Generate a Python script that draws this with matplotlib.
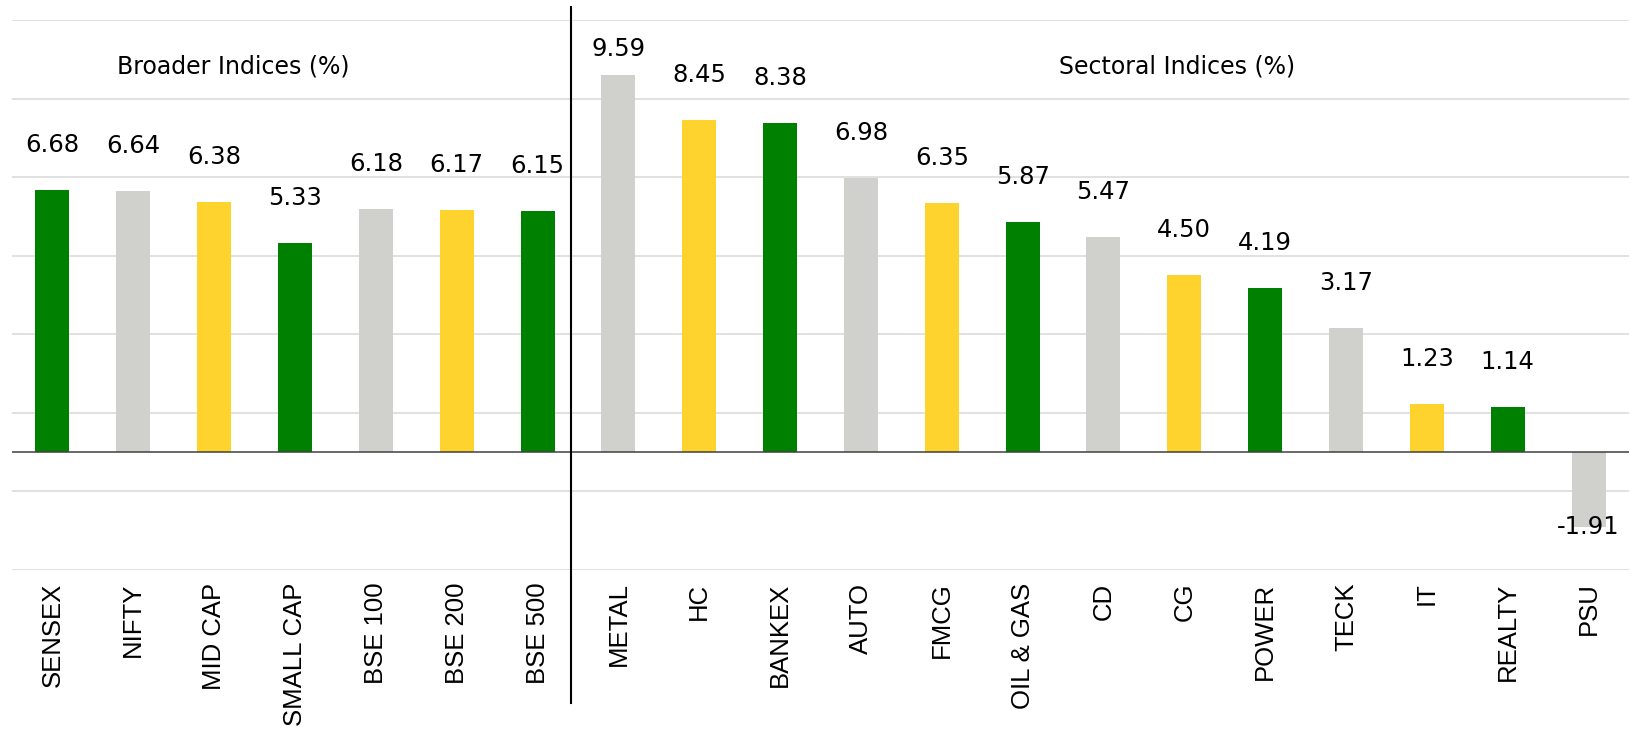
import numpy as np
import matplotlib
matplotlib.use('Agg')
import matplotlib.pyplot as plt

categories = ['SENSEX', 'NIFTY', 'MID CAP', 'SMALL CAP', 'BSE 100', 'BSE 200', 'BSE 500',
              'METAL', 'HC', 'BANKEX', 'AUTO', 'FMCG', 'OIL & GAS', 'CD', 'CG', 'POWER',
              'TECK', 'IT', 'REALTY', 'PSU']
values = [6.68, 6.64, 6.38, 5.33, 6.18, 6.17, 6.15,
          9.59, 8.45, 8.38, 6.98, 6.35, 5.87, 5.47, 4.50, 4.19,
          3.17, 1.23, 1.14, -1.91]
n_broad = 7
palette = ['#008000', '#D0D1CC', '#FFD32E']
colors = [palette[i % 3] for i in range(len(categories))]

fig = plt.figure(figsize=(16.3, 7.33), dpi=100)
ax = fig.add_axes([12 / 1630, 1 - 570 / 733, 1617 / 1630, 550 / 733])

x = np.arange(len(categories))
ax.bar(x, values, width=0.42, color=colors, zorder=3)

ax.set_xlim(-0.5, len(categories) - 0.5)
ax.set_ylim(-3, 11)
ax.set_yticks([-3, -1, 1, 3, 5, 7, 9, 11])
ax.yaxis.grid(True, color='#D9D9D9', linewidth=1.1, zorder=0)
ax.tick_params(axis='y', length=0, labelleft=False)
ax.axhline(0, color='#404040', linewidth=1.1, zorder=4)
for s in ax.spines.values():
    s.set_visible(False)

ax.set_xticks(x)
ax.set_xticklabels(categories, rotation=90, fontsize=18.5, family='Liberation Sans', va='top')
ax.tick_params(axis='x', length=0, pad=9)

# value labels
for i, v in enumerate(values):
    if v < 0:
        ax.annotate(f'{v:.2f}', (i, v), ha='center', va='center', fontsize=17.5,
                    family='DejaVu Sans', zorder=5)
    else:
        off = 18.7 if v == max(values) else 32.4
        ax.annotate(f'{v:.2f}', (i, v), xytext=(0, off), textcoords='offset points',
                    ha='center', va='center', fontsize=17.5, family='DejaVu Sans', zorder=5)

# group titles
ax.text(0.137, 0.916, 'Broader Indices (%)', transform=ax.transAxes, ha='center',
        va='center', fontsize=17, family='DejaVu Sans')
ax.text(0.7205, 0.916, 'Sectoral Indices (%)', transform=ax.transAxes, ha='center',
        va='center', fontsize=17, family='DejaVu Sans')

# divider between broader and sectoral groups
div_x = n_broad - 0.58
ax.plot([div_x, div_x], [-0.2418, 1.0236], color='black', linewidth=1.5,
        transform=ax.get_xaxis_transform(), clip_on=False, zorder=6)

fig.savefig('out.png', dpi=100)
